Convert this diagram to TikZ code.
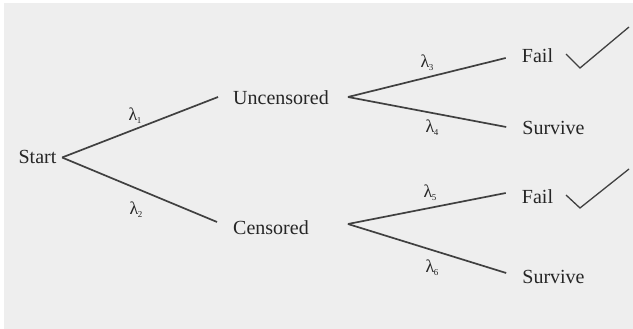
\documentclass[tikz,border=0pt]{standalone}
\usepackage{fontspec}
\setmainfont{Liberation Serif}
\definecolor{bggray}{HTML}{EEEEEE}
\definecolor{linegray}{HTML}{404040}
\definecolor{txtgray}{HTML}{262626}
\newcommand{\lamsub}[1]{λ\kern-0.5pt\raisebox{-3pt}{\fontsize{9}{9}\selectfont #1}}
\begin{document}
\begin{tikzpicture}[x=1pt,y=-1pt,
  lbl/.style={inner sep=0pt, anchor=base, text height=13pt, text depth=0pt,
              text=txtgray, font=\fontsize{20}{24}\selectfont},
  lam/.style={inner sep=0pt, text=txtgray, font=\fontsize{18}{20}\selectfont},
  branch/.style={draw=linegray, line width=1.7pt},
  tick/.style={draw=linegray, line width=1.3pt, line join=miter}]
\useasboundingbox (0,0) rectangle (633,329);
\fill[bggray] (4,3) rectangle (633,329);

% outcome labels
\node[lbl] (start) at (37.5,164) {Start};
\node[lbl] (unc)   at (281,105)  {Uncensored};
\node[lbl] (cens)  at (271,234)  {Censored};
\node[lbl] (fail1) at (537.5,63) {Fail};
\node[lbl] (surv1) at (553.5,135) {Survive};
\node[lbl] (fail2) at (537.5,204) {Fail};
\node[lbl] (surv2) at (553.5,283) {Survive};

% branches of the tree
\draw[branch] ([shift={(5.5,0)}]start.east) -- ([shift={(-15,-1.5)}]unc.west);
\draw[branch] ([shift={(5.5,0)}]start.east) -- ([shift={(-16,-5.5)}]cens.west);
\draw[branch] ([shift={(19,-1.5)}]unc.east) -- ([shift={(-16,1.5)}]fail1.west);
\draw[branch] ([shift={(19,-1.5)}]unc.east) -- ([shift={(-16,-1.5)}]surv1.west);
\draw[branch] ([shift={(39,-3.5)}]cens.east) -- ([shift={(-16,-4.5)}]fail2.west);
\draw[branch] ([shift={(39,-3.5)}]cens.east) -- ([shift={(-16,-3.5)}]surv2.west);

% transition rates
\node[lam] (l1) at (135,116) {\lamsub{1}};
\node[lam] (l2) at (136,210) {\lamsub{2}};
\node[lam] (l3) at (427,63)  {\lamsub{3}};
\node[lam] (l4) at (432,128) {\lamsub{4}};
\node[lam] (l5) at (430,193) {\lamsub{5}};
\node[lam] (l6) at (432,268) {\lamsub{6}};

% check marks beside the failures
\draw[tick] (566,54) -- (580,68) -- (629,27);
\draw[tick] (566,195) -- (580,208) -- (629,169);
\end{tikzpicture}
\end{document}
